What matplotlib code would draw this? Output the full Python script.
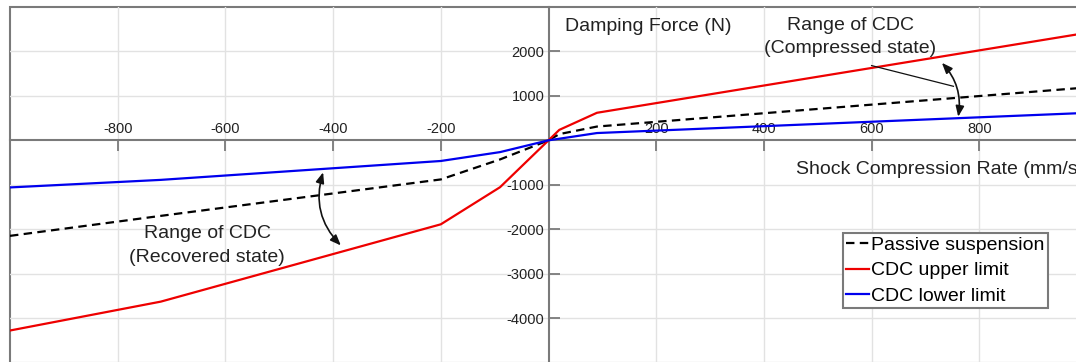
import numpy as np
import matplotlib
matplotlib.use("Agg")
import matplotlib.pyplot as plt
from matplotlib.patches import FancyArrowPatch, Rectangle

plt.rcParams['font.family'] = ['Liberation Sans', 'DejaVu Sans']
plt.rcParams['axes.unicode_minus'] = False

# shock compression rate (mm/s)
rate = [-1000, -720, -200, -90, 0, 20, 90, 1000]
# damping force (N)
passive = [-2150, -1700, -880, -430, 0, 140, 310, 1190]
cdc_upper = [-4280, -3630, -1890, -1055, 0, 235, 620, 2420]
cdc_lower = [-1060, -890, -465, -265, 0, 36, 164, 618]

xticks = [-800, -600, -400, -200, 200, 400, 600, 800]
yticks = [-4000, -3000, -2000, -1000, 1000, 2000]

axis_grey = '#7a7a7a'

fig = plt.figure(figsize=(10.76, 3.62), dpi=100)
ax = fig.add_axes([10 / 1076, -0.0014, 1077 / 1076, 0.982])

ax.plot(rate, passive, color='black', lw=1.6, ls='--', dashes=(3.8, 2.4),
        label='Passive suspension', zorder=3)
ax.plot(rate, cdc_upper, color='#ee0000', lw=1.6, label='CDC upper limit', zorder=3)
ax.plot(rate, cdc_lower, color='#0000ee', lw=1.6, label='CDC lower limit', zorder=3)

ax.set_xlim(-1000, 1000)
ax.set_ylim(-5000, 3000)
ax.set_xticks(xticks)
ax.set_yticks(yticks)
ax.grid(True, color='#e2e2e2', lw=1.0, zorder=0)

# axes through the origin, x labels above the axis
for s in ['bottom', 'right']:
    ax.spines[s].set_visible(False)
ax.spines['top'].set_position(('data', 0))
ax.spines['left'].set_position(('data', 0))
for s in ['top', 'left']:
    ax.spines[s].set_color(axis_grey)
    ax.spines[s].set_linewidth(1.5)
    ax.spines[s].set_zorder(2)
ax.xaxis.set_ticks_position('top')
ax.tick_params(axis='both', direction='in', length=8, width=1.3, color=axis_grey,
               labelsize=10.5, labelcolor='#222222')
ax.tick_params(axis='x', pad=3)
ax.tick_params(axis='y', pad=3)

# outer box
ax.add_patch(Rectangle((0, 0), 1, 1, transform=ax.transAxes, fill=False,
                       edgecolor=axis_grey, lw=1.5, clip_on=False, zorder=1))

ax.text(30, 2570, 'Damping Force (N)', fontsize=14, ha='left', va='center', color='#222222')
ax.text(459, -650, 'Shock Compression Rate (mm/s)', fontsize=14, ha='left', va='center',
        color='#222222')

ax.text(560, 2330, 'Range of CDC\n(Compressed state)', fontsize=14, ha='center', va='center',
        color='#222222', linespacing=1.5)
ax.text(-634, -2362, 'Range of CDC\n(Recovered state)', fontsize=14, ha='center', va='center',
        color='#222222', linespacing=1.5)

arrow_kw = dict(arrowstyle='<|-|>,head_length=0.45,head_width=0.18', mutation_scale=14,
                color='#111111', lw=1.2, zorder=4)
ax.add_patch(FancyArrowPatch((727, 1790), (760, 470),
                             connectionstyle='arc3,rad=-0.26', **arrow_kw))
ax.add_patch(FancyArrowPatch((-417, -660), (-382, -2410),
                             connectionstyle='arc3,rad=0.31', **arrow_kw))
ax.plot([600, 752], [1682, 1216], color='#111111', lw=0.9, zorder=4)

leg = ax.legend(loc='upper left', bbox_to_anchor=(0.7735, 0.364), borderaxespad=0,
                fontsize=14, handlelength=1.2, handletextpad=0.1, labelspacing=0.42,
                borderpad=0.15, fancybox=False, framealpha=1, edgecolor=axis_grey)
leg.get_frame().set_linewidth(1.5)

fig.savefig('out.png', dpi=100)
